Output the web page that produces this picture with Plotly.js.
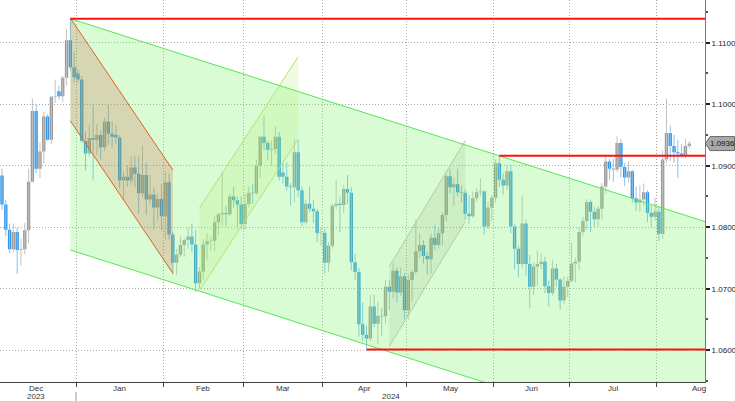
<!DOCTYPE html>
<html><head><meta charset="utf-8">
<script src="https://cdn.plot.ly/plotly-3.0.1.min.js"></script>
<style>html,body{margin:0;padding:0;background:#fff}#chart{width:735px;height:401px}</style>
</head><body><div id="chart"></div>
<script>
// EUR/USD daily candles, trading days 2023-12-04 .. 2024-08-13
const openP = [
1.0884,1.0837,1.0796,1.0764,1.0792,1.0763,1.0764,1.0795,1.0874,1.0989,1.0895,1.0923,1.0980,1.0942,1.1012,1.1021,1.1013,1.1043,1.1104,1.1060,
1.1050,1.1040,1.0940,1.0920,1.0945,1.0942,1.0950,1.0930,1.0972,1.0952,1.0950,1.0946,1.0876,1.0882,1.0876,1.0897,1.0887,1.0855,1.0885,1.0845,1.0853,1.0832,1.0846,
1.0818,1.0873,1.0788,1.0742,1.0755,1.0771,1.0779,1.0785,1.0772,1.0709,1.0728,1.0772,1.0777,1.0778,1.0808,1.0821,1.0823,1.0821,1.0850,1.0844,1.0837,
1.0805,1.0838,1.0856,1.0855,1.0900,1.0947,1.0937,1.0926,1.0927,1.0947,1.0889,1.0882,1.0866,1.0865,1.0922,1.0860,1.0808,1.0838,1.0830,1.0826,1.0790,
1.0791,1.0742,1.0770,1.0835,1.0838,1.0836,1.0862,1.0856,1.0743,1.0727,1.0642,1.0625,1.0619,1.0671,1.0643,1.0656,1.0655,1.0703,1.0695,1.0729,1.0694,1.0720,
1.0665,1.0714,1.0727,1.0761,1.0771,1.0753,1.0748,1.0783,1.0771,1.0790,1.0820,1.0883,1.0865,1.0870,1.0857,1.0856,1.0822,1.0818,1.0847,1.0857,1.0858,1.0801,1.0832,
1.0848,1.0904,1.0877,1.0868,1.0891,1.0801,1.0765,1.0740,1.0806,1.0740,1.0703,1.0736,1.0740,1.0744,1.0704,1.0693,1.0733,1.0715,1.0681,1.0703,
1.0713,1.0741,1.0744,1.0792,1.0810,1.0841,1.0825,1.0813,1.0830,1.0866,1.0907,1.0895,1.0894,1.0937,1.0898,1.0881,1.0891,1.0847,1.0840,1.0845,1.0857,1.0823,1.0817,
1.0825,1.0789,1.0910,1.0953,1.0932,1.0922,1.0920,1.0916,1.0932];
const highP = [
1.0895,1.0844,1.0806,1.0806,1.0799,1.0781,1.0807,1.0895,1.1009,1.1000,1.0938,1.0988,1.0983,1.1013,1.1040,1.1030,1.1046,1.1122,1.1139,1.1085,
1.1056,1.1046,1.0956,1.0967,1.0998,1.0968,1.0958,1.0978,1.0999,1.0972,1.0966,1.0950,1.0890,1.0901,1.0915,1.0915,1.0915,1.0932,1.0905,1.0885,1.0865,1.0855,1.0870,
1.0890,1.0887,1.0793,1.0765,1.0785,1.0782,1.0799,1.0806,1.0795,1.0735,1.0780,1.0790,1.0785,1.0818,1.0823,1.0889,1.0835,1.0855,1.0866,1.0850,1.0850,
1.0855,1.0866,1.0870,1.0910,1.0948,1.0981,1.0940,1.0941,1.0964,1.0955,1.0905,1.0905,1.0871,1.0943,1.0942,1.0866,1.0845,1.0866,1.0844,1.0830,1.0800,
1.0797,1.0775,1.0838,1.0876,1.0850,1.0868,1.0885,1.0865,1.0757,1.0734,1.0678,1.0640,1.0690,1.0690,1.0679,1.0669,1.0714,1.0715,1.0742,1.0735,1.0734,1.0725,
1.0723,1.0731,1.0812,1.0790,1.0779,1.0760,1.0790,1.0804,1.0801,1.0824,1.0887,1.0895,1.0880,1.0895,1.0867,1.0862,1.0852,1.0858,1.0863,1.0880,1.0860,1.0841,1.0852,
1.0910,1.0916,1.0888,1.0902,1.0902,1.0806,1.0770,1.0852,1.0812,1.0755,1.0742,1.0762,1.0758,1.0752,1.0713,1.0746,1.0740,1.0717,1.0720,1.0720,
1.0775,1.0750,1.0800,1.0817,1.0845,1.0845,1.0833,1.0835,1.0872,1.0915,1.0911,1.0911,1.0948,1.0943,1.0904,1.0907,1.0893,1.0866,1.0868,1.0871,1.0860,1.0835,1.0848,
1.0833,1.0925,1.1009,1.0965,1.0950,1.0942,1.0935,1.0944,1.0940];
const lowP = [
1.0828,1.0785,1.0758,1.0759,1.0724,1.0738,1.0756,1.0774,1.0873,1.0888,1.0880,1.0904,1.0941,1.0935,1.1002,1.1008,1.1004,1.1030,1.1055,1.1034,
1.1036,1.0937,1.0892,1.0915,1.0876,1.0918,1.0910,1.0924,1.0934,1.0930,1.0935,1.0863,1.0844,1.0866,1.0868,1.0865,1.0822,1.0848,1.0820,1.0838,1.0796,1.0810,1.0795,
1.0780,1.0780,1.0723,1.0722,1.0752,1.0752,1.0765,1.0760,1.0695,1.0701,1.0715,1.0746,1.0762,1.0762,1.0788,1.0802,1.0802,1.0818,1.0832,1.0798,1.0796,
1.0795,1.0833,1.0838,1.0853,1.0880,1.0925,1.0910,1.0900,1.0919,1.0876,1.0871,1.0860,1.0835,1.0840,1.0849,1.0802,1.0804,1.0824,1.0807,1.0776,1.0770,
1.0724,1.0728,1.0765,1.0830,1.0792,1.0823,1.0838,1.0730,1.0714,1.0622,1.0615,1.0601,1.0615,1.0637,1.0610,1.0624,1.0643,1.0665,1.0684,1.0678,1.0688,1.0650,
1.0650,1.0679,1.0724,1.0750,1.0741,1.0723,1.0725,1.0762,1.0765,1.0770,1.0810,1.0855,1.0835,1.0850,1.0840,1.0812,1.0805,1.0815,1.0842,1.0851,1.0787,1.0797,1.0810,
1.0840,1.0865,1.0853,1.0860,1.0790,1.0732,1.0719,1.0733,1.0721,1.0668,1.0690,1.0705,1.0731,1.0693,1.0671,1.0689,1.0703,1.0666,1.0675,1.0686,
1.0710,1.0710,1.0730,1.0785,1.0795,1.0792,1.0800,1.0800,1.0812,1.0855,1.0877,1.0874,1.0890,1.0881,1.0867,1.0873,1.0840,1.0826,1.0825,1.0835,1.0808,1.0801,1.0810,
1.0777,1.0781,1.0905,1.0908,1.0905,1.0880,1.0913,1.0912,1.0928];
const closeP = [
1.0837,1.0796,1.0764,1.0792,1.0763,1.0764,1.0795,1.0874,1.0989,1.0895,1.0923,1.0980,1.0942,1.1012,1.1013,1.1013,1.1043,1.1104,1.1060,1.1044,
1.1040,1.0940,1.0920,1.0945,1.0942,1.0950,1.0930,1.0972,1.0952,1.0947,1.0946,1.0876,1.0882,1.0876,1.0897,1.0887,1.0855,1.0885,1.0845,1.0853,1.0832,1.0846,1.0818,
1.0873,1.0788,1.0742,1.0755,1.0771,1.0779,1.0785,1.0772,1.0709,1.0728,1.0772,1.0777,1.0778,1.0808,1.0821,1.0823,1.0821,1.0850,1.0844,1.0837,1.0805,
1.0838,1.0856,1.0855,1.0900,1.0947,1.0937,1.0926,1.0927,1.0947,1.0882,1.0882,1.0866,1.0865,1.0922,1.0860,1.0808,1.0838,1.0830,1.0826,1.0790,1.0791,
1.0742,1.0770,1.0835,1.0838,1.0836,1.0862,1.0856,1.0743,1.0727,1.0642,1.0625,1.0619,1.0671,1.0643,1.0656,1.0655,1.0703,1.0695,1.0729,1.0694,1.0720,1.0665,
1.0714,1.0727,1.0761,1.0771,1.0753,1.0748,1.0783,1.0771,1.0790,1.0820,1.0883,1.0865,1.0870,1.0857,1.0856,1.0822,1.0818,1.0847,1.0857,1.0858,1.0801,1.0832,1.0848,
1.0904,1.0877,1.0868,1.0891,1.0801,1.0765,1.0740,1.0806,1.0740,1.0703,1.0736,1.0740,1.0744,1.0704,1.0693,1.0733,1.0715,1.0681,1.0703,1.0713,
1.0741,1.0744,1.0792,1.0810,1.0841,1.0825,1.0813,1.0830,1.0866,1.0907,1.0895,1.0894,1.0937,1.0898,1.0881,1.0891,1.0847,1.0840,1.0845,1.0857,1.0823,1.0817,1.0825,
1.0789,1.0910,1.0953,1.0932,1.0922,1.0920,1.0916,1.0932,1.0936];

const monthKeys   = ['2023-12','2024-01','2024-02','2024-03','2024-04','2024-05','2024-06','2024-07','2024-08'];
const monthLabels = ['Dec','Jan','Feb','Mar','Apr','May','Jun','Jul','Aug'];
const yearLabels  = ['2023','2024'];
const lastPrice = 1.0936;

// analyst drawings: [date, price]
const mainUpper = [['2023-12-28',1.1139],['2024-06-04',1.0916]];
const mainLowerStart = ['2023-12-28',1.0763];
const janUpper = [['2023-12-28',1.1140],['2024-02-05',1.0893]];
const janLower = [['2023-12-28',1.0973],['2024-02-05',1.0725]];
const febLower = [['2024-02-14',1.0697],['2024-03-21',1.0943]];
const febUpper = [['2024-02-14',1.0831],['2024-03-21',1.1077]];
const aprLower = [['2024-04-24',1.0606],['2024-05-22',1.0809]];
const aprUpper = [['2024-04-24',1.0736],['2024-05-22',1.0941]];
const redLevels = [['2023-12-28',1.1139],['2024-06-04',1.0916],['2024-04-16',1.0601]];

// calendar of weekdays
const allDates = [];
for (let d = new Date(Date.UTC(2023,11,1)); d.getTime() <= Date.UTC(2024,7,30); d.setUTCDate(d.getUTCDate()+1)) {
  const wd = d.getUTCDay(); if (wd !== 0 && wd !== 6) allDates.push(d.toISOString().slice(0,10));
}
const base = allDates.indexOf('2023-12-04');
const ix = s => allDates.indexOf(s) - base;
const xs = closeP.map((_, i) => i);

const XMIN = -0.527, XMAX = 185.15, YMIN = 1.054829, YMAX = 1.116943, FAR = 230;

const bounds = [], mids = [];
monthKeys.forEach((m, k) => {
  const idx = allDates.filter(d => d.startsWith(m)).map(ix);
  const first = Math.min(...idx), last = Math.max(...idx);
  if (k > 0) bounds.push(first - 0.5);
  mids.push((first + last) / 2);
});

function lineAt(pair, x) {
  const x0 = ix(pair[0][0]), x1 = ix(pair[1][0]);
  const s = (pair[1][1] - pair[0][1]) / (x1 - x0);
  return pair[0][1] + s * (x - x0);
}
const P = (x, y) => x + ',' + y;

const shapes = [];
const m0 = ix(mainUpper[0][0]);
const mSlope = (mainUpper[1][1] - mainUpper[0][1]) / (ix(mainUpper[1][0]) - m0);
const lowAt = x => mainLowerStart[1] + mSlope * (x - m0);
shapes.push({type:'path', layer:'above', xref:'x', yref:'y',
  path:'M'+P(m0,mainUpper[0][1])+' L'+P(FAR,lineAt(mainUpper,FAR))+' L'+P(FAR,lowAt(FAR))+' L'+P(m0,mainLowerStart[1])+' Z',
  fillcolor:'rgba(120,244,100,0.27)', line:{width:0}});
function chan(lo, up, fill) {
  const a = ix(lo[0][0]), b = ix(lo[1][0]);
  shapes.push({type:'path', layer:'above', xref:'x', yref:'y',
    path:'M'+P(a,lo[0][1])+' L'+P(b,lo[1][1])+' L'+P(b,up[1][1])+' L'+P(a,up[0][1])+' Z',
    fillcolor:fill, line:{width:0}});
}
chan(febLower, febUpper, 'rgba(160,225,60,0.15)');
chan(aprLower, aprUpper, 'rgba(110,120,60,0.10)');
chan(janLower, janUpper, 'rgba(200,70,40,0.20)');
function seg(pair, color, w) {
  shapes.push({type:'line', layer:'above', xref:'x', yref:'y',
    x0:ix(pair[0][0]), y0:pair[0][1], x1:ix(pair[1][0]), y1:pair[1][1], line:{color:color, width:w}});
}
seg(febLower,'#b2e27a',1); seg(febUpper,'#b2e27a',1);
seg(aprLower,'#b6cc98',1); seg(aprUpper,'#b6cc98',1);
seg(janLower,'#e0602e',1); seg(janUpper,'#e0602e',1);
shapes.push({type:'line', layer:'above', xref:'x', yref:'y', x0:m0, y0:mainUpper[0][1], x1:FAR, y1:lineAt(mainUpper,FAR), line:{color:'#55e852', width:1}});
shapes.push({type:'line', layer:'above', xref:'x', yref:'y', x0:m0, y0:mainLowerStart[1], x1:FAR, y1:lowAt(FAR), line:{color:'#55e852', width:1}});
redLevels.forEach(r => shapes.push({type:'line', layer:'above', xref:'x', yref:'y',
  x0:ix(r[0]), y0:r[1], x1:FAR, y1:r[1], line:{color:'#ff1010', width:2}}));
shapes.push({type:'line', xref:'x', yref:'paper', x0:bounds[0], x1:bounds[0], y0:-10/382, y1:-19/382, line:{color:'#999', width:1}});
const yp = (lastPrice - YMIN) / (YMAX - YMIN), hp = 7/382, px = 1/705;
shapes.push({type:'path', xref:'paper', yref:'paper', layer:'above',
  path:'M'+P(1+0.5*px,yp)+' L'+P(1+5*px,yp+hp)+' L'+P(1+29.5*px,yp+hp)+' L'+P(1+29.5*px,yp-hp)+' L'+P(1+5*px,yp-hp)+' Z',
  fillcolor:'#a9a9a9', line:{color:'#6a6a6a', width:1}});

const font = 'Liberation Sans, Arial, sans-serif';
const annotations = [];
monthLabels.forEach((t, k) => annotations.push({xref:'x', yref:'paper', x:mids[k], y:-6/382, text:t,
  showarrow:false, xanchor:'center', yanchor:'middle', font:{family:font, size:8, color:'#333'}}));
annotations.push({xref:'x', yref:'paper', x:mids[0], y:-14.5/382, text:yearLabels[0], showarrow:false, yanchor:'middle', font:{family:font, size:8, color:'#333'}});
annotations.push({xref:'x', yref:'paper', x:(bounds[0]+XMAX)/2, y:-14.5/382, text:yearLabels[1], showarrow:false, yanchor:'middle', font:{family:font, size:8, color:'#333'}});
annotations.push({xref:'paper', yref:'paper', x:1+17.5*px, y:yp, text:lastPrice.toFixed(4), showarrow:false,
  xanchor:'center', yanchor:'middle', font:{family:font, size:8, color:'#111'}});

const traces = [
  {type:'ohlc', x:xs, open:openP, high:highP, low:lowP, close:closeP, tickwidth:0, hoverinfo:'skip',
   increasing:{line:{color:'#c2c2c2', width:1}}, decreasing:{line:{color:'#86c2f0', width:1}}, showlegend:false},
  {type:'candlestick', x:xs, open:openP, high:highP, low:lowP, close:closeP, hoverinfo:'skip', whiskerwidth:0,
   increasing:{fillcolor:'#9a9a9a', line:{color:'#9a9a9a', width:0}},
   decreasing:{fillcolor:'#3296e8', line:{color:'#3296e8', width:0}}, showlegend:false}
];

const layout = {
  width:735, height:401, margin:{l:0, r:30, t:0, b:19}, paper_bgcolor:'#fff', plot_bgcolor:'#fff',
  showlegend:false, boxgap:0.12, boxgroupgap:0, hovermode:false,
  xaxis:{type:'linear', range:[XMIN, XMAX], tickmode:'array', tickvals:bounds, showticklabels:false,
    ticks:'outside', ticklen:4, tickcolor:'#444', showgrid:true, gridcolor:'#a8a8a8', griddash:'1px,2px',
    showline:true, linecolor:'#444', linewidth:1, zeroline:false, rangeslider:{visible:false}, fixedrange:true},
  yaxis:{side:'right', range:[YMIN, YMAX], tickmode:'linear', tick0:1.06, dtick:0.01, tickformat:'.4f',
    ticks:'outside', ticklen:4, tickwidth:2, tickcolor:'#222', showline:true, linecolor:'#777', linewidth:1,
    showgrid:true, gridcolor:'#a8a8a8', griddash:'1px,2px', zeroline:false, fixedrange:true,
    tickfont:{family:font, size:8, color:'#222'},
    minor:{dtick:0.005, ticks:'outside', ticklen:2, tickcolor:'#555', showgrid:false}},
  shapes:shapes, annotations:annotations
};
Plotly.newPlot('chart', traces, layout, {staticPlot:true, displayModeBar:false});
</script></body></html>
